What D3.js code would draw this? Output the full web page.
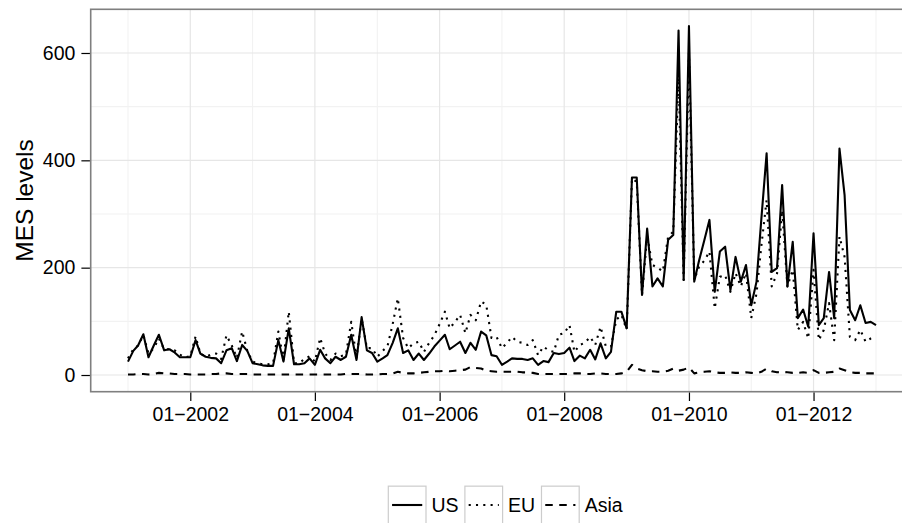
<!DOCTYPE html>
<html>
<head>
<meta charset="utf-8">
<script src="https://cdn.jsdelivr.net/npm/d3@7/dist/d3.min.js"></script>
<style>
  body { margin: 0; background: #fff; }
  svg { display: block; font-family: "Liberation Sans", Arial, sans-serif; }
</style>
</head>
<body>
<script>
const width = 902, height = 523;

// monthly observations, Jan 2001 .. Jan 2013
const months = d3.timeMonth.range(new Date(2001, 0, 1), new Date(2013, 1, 1));

const usValues = [25,45,55,76,33,55,75,46,48,42,
  33,33,33,65,40,34,32,31,22,46,
  50,26,56,45,22,20,18,17,17,65,
  25,87,20,20,22,31,19,47,31,22,
  34,28,34,75,28,108,46,41,25,31,
  37,60,87,41,46,28,40,28,40,53,
  64,75,48,55,62,41,60,47,81,74,
  37,35,19,25,31,30,30,28,31,19,
  26,24,41,39,41,51,26,36,31,47,
  29,59,31,43,118,118,87,368,368,149,
  273,165,180,165,252,261,642,177,650,174,
  213,251,289,155,230,239,158,220,174,205,
  130,174,290,413,192,199,354,165,248,106,
  122,90,264,93,106,192,106,422,335,121,
  102,130,97,99,93];

const euValues = [31,48,55,74,40,50,68,48,48,46,
  38,33,35,72,40,34,38,40,30,74,
  55,32,81,45,25,22,20,20,22,81,
  28,118,22,22,30,35,25,69,40,28,
  40,35,38,99,32,105,50,50,34,45,
  53,95,143,69,50,59,62,43,60,74,
  95,118,87,99,112,78,112,102,137,131,
  69,71,50,60,71,62,60,56,65,37,
  53,46,43,75,78,93,43,56,60,71,
  56,90,53,53,103,112,85,366,360,149,
  258,205,200,193,258,267,560,177,600,177,
  202,213,230,124,183,186,155,190,165,190,
  106,152,240,326,165,189,307,165,196,84,
  99,68,196,65,84,134,65,258,220,71,
  65,84,62,68,70];

const asiaValues = [1,1,2,2,1,2,4,3,3,2,
  2,2,1,1,1,1,2,2,3,3,
  2,2,2,2,1,1,1,1,1,1,
  1,1,1,1,1,1,1,1,1,1,
  1,1,2,2,2,2,1,1,1,2,
  2,3,6,4,3,3,4,5,6,7,
  7,8,7,8,9,10,15,13,12,8,
  7,6,6,6,6,6,5,5,4,2,
  2,2,2,2,2,2,3,3,2,2,
  3,3,2,2,2,3,6,19,12,9,
  7,7,6,6,8,12,8,10,14,3,
  5,6,7,5,4,4,5,4,4,5,
  4,3,6,12,7,5,6,5,4,4,
  5,4,9,4,4,5,6,12,9,5,
  4,4,3,3,3];

const seriesNames = ["US", "EU", "Asia"];
const seriesValues = [usValues, euValues, asiaValues];
const dashes = [null, "2.1,5.2", "7.5,6.5"];

const yTicks = [0, 200, 400, 600];
const yMinor = [100, 300, 500];
const xTickYears = [2002, 2004, 2006, 2008, 2010, 2012];
const xMinorYears = [2001, 2003, 2005, 2007, 2009, 2011, 2013];

// panel box (right side runs past the picture edge)
const panel = { left: 90.7, top: 9.3, right: 913.4, bottom: 391.7 };

const x = d3.scaleTime()
    .domain([new Date(2001, 0, 1), new Date(2013, 0, 1)])
    .range([128, 876]);

const y = d3.scaleLinear()
    .domain([-31.1, 681.4])
    .range([panel.bottom, panel.top]);

const svg = d3.select("body").append("svg")
    .attr("width", width)
    .attr("height", height);

const plotArea = svg.append("g");

// grid
plotArea.selectAll(".ymin").data(yMinor).enter().append("line")
    .attr("x1", panel.left).attr("x2", panel.right)
    .attr("y1", d => y(d)).attr("y2", d => y(d))
    .attr("stroke", "#f2f2f2").attr("stroke-width", 1.1);
plotArea.selectAll(".xmin").data(xMinorYears).enter().append("line")
    .attr("x1", d => x(new Date(d, 0, 1))).attr("x2", d => x(new Date(d, 0, 1)))
    .attr("y1", panel.top).attr("y2", panel.bottom)
    .attr("stroke", "#f2f2f2").attr("stroke-width", 1.1);
plotArea.selectAll(".ymaj").data(yTicks).enter().append("line")
    .attr("x1", panel.left).attr("x2", panel.right)
    .attr("y1", d => y(d)).attr("y2", d => y(d))
    .attr("stroke", "#e6e6e6").attr("stroke-width", 1.2);
plotArea.selectAll(".xmaj").data(xTickYears).enter().append("line")
    .attr("x1", d => x(new Date(d, 0, 1))).attr("x2", d => x(new Date(d, 0, 1)))
    .attr("y1", panel.top).attr("y2", panel.bottom)
    .attr("stroke", "#e6e6e6").attr("stroke-width", 1.2);

// series
const line = d3.line()
    .x((d, i) => x(months[i]))
    .y(d => y(d));

seriesValues.forEach((vals, k) => {
  plotArea.append("path")
      .datum(vals)
      .attr("d", line)
      .attr("fill", "none")
      .attr("stroke", "#000")
      .attr("stroke-width", 2.1)
      .attr("stroke-linejoin", "round")
      .attr("stroke-dasharray", dashes[k]);
});

// panel border
svg.append("rect")
    .attr("x", panel.left).attr("y", panel.top)
    .attr("width", panel.right - panel.left)
    .attr("height", panel.bottom - panel.top)
    .attr("fill", "none")
    .attr("stroke", "#7f7f7f")
    .attr("stroke-width", 1.6);

// axes
const yAxis = d3.axisLeft(y)
    .tickValues(yTicks)
    .tickSize(8.5)
    .tickPadding(6);
const gy = svg.append("g")
    .attr("transform", `translate(${panel.left - 0.8},0)`)
    .call(yAxis);

const xAxis = d3.axisBottom(x)
    .tickValues(xTickYears.map(v => new Date(v, 0, 1)))
    .tickFormat(d3.timeFormat("%m\u2212%Y"))
    .tickSize(8.5)
    .tickPadding(6);
const gx = svg.append("g")
    .attr("transform", `translate(0,${panel.bottom + 0.8})`)
    .call(xAxis);

[gx, gy].forEach(g => {
  g.select(".domain").remove();
  g.selectAll(".tick line").attr("stroke", "#000").attr("stroke-width", 1.2);
  g.selectAll(".tick text")
      .attr("fill", "#000")
      .attr("font-size", "19.5px")
      .attr("font-family", "Liberation Sans, Arial, sans-serif");
});

// axis title
svg.append("text")
    .attr("transform", `translate(33,${(panel.top + panel.bottom) / 2}) rotate(-90)`)
    .attr("text-anchor", "middle")
    .attr("font-size", "24.5px")
    .attr("fill", "#000")
    .text("MES levels");

// legend
const keySize = 37.7;
const legend = svg.append("g");
let lx = 388.3;
const ly = 505;
seriesNames.forEach((name, k) => {
  const item = legend.append("g");
  item.append("rect")
      .attr("x", lx).attr("y", ly - keySize / 2)
      .attr("width", keySize).attr("height", keySize)
      .attr("fill", "#fff")
      .attr("stroke", "#cccccc")
      .attr("stroke-width", 1.2);
  item.append("line")
      .attr("x1", lx + keySize * 0.1).attr("x2", lx + keySize * 0.9)
      .attr("y1", ly).attr("y2", ly)
      .attr("stroke", "#000")
      .attr("stroke-width", 2.1)
      .attr("stroke-dasharray", dashes[k]);
  const t = item.append("text")
      .attr("x", lx + keySize + 5.5)
      .attr("y", ly)
      .attr("dy", "0.36em")
      .attr("font-size", "19.5px")
      .attr("fill", "#000")
      .text(name);
  lx += keySize + 5.5 + t.node().getComputedTextLength() + 6.3;
});
</script>
</body>
</html>
